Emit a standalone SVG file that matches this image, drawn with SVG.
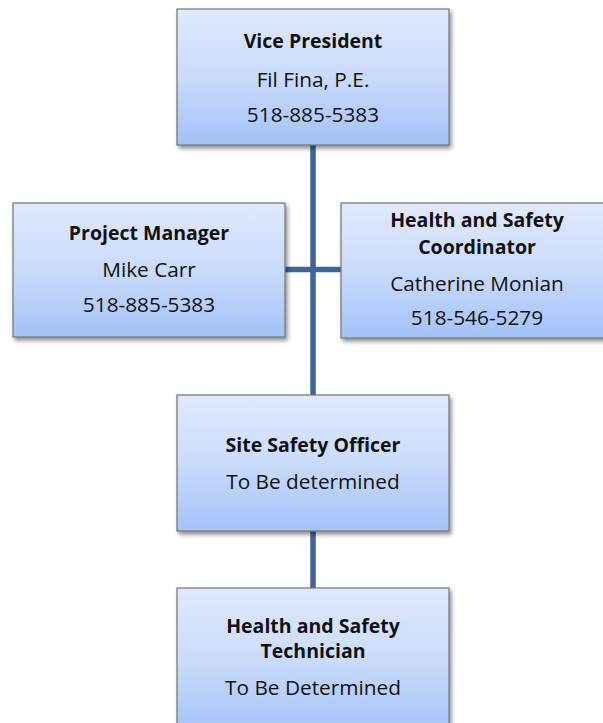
<svg xmlns="http://www.w3.org/2000/svg" width="603" height="723" viewBox="0 0 603 723">
<style>
.box{fill:url(#g);stroke:#737373;stroke-width:1.2;filter:url(#sh)}
.t{font-family:"Open Sans","Liberation Sans",sans-serif;font-size:20.8px;fill:#111;text-anchor:middle}
.b{font-weight:bold;font-size:19.5px}
.c{stroke:#3e6699;stroke-width:5.5;fill:none}
</style>
<defs>
<linearGradient id="g" x1="0" y1="0" x2="0" y2="1">
<stop offset="0" stop-color="#e0e9fc"/>
<stop offset="0.5" stop-color="#cadbfb"/>
<stop offset="1" stop-color="#a3c2f8"/>
</linearGradient>
<filter id="sh" x="-10%" y="-10%" width="125%" height="130%">
<feGaussianBlur in="SourceAlpha" stdDeviation="2"/>
<feOffset dx="2" dy="3" result="o"/>
<feComponentTransfer><feFuncA type="linear" slope="0.45"/></feComponentTransfer>
<feMerge><feMergeNode/><feMergeNode in="SourceGraphic"/></feMerge>
</filter>
</defs>
<g id="connectors">
<line class="c" x1="313" y1="145" x2="313" y2="395"/>
<line class="c" x1="285" y1="269.5" x2="341" y2="269.5"/>
<line class="c" x1="313" y1="531" x2="313" y2="588"/>
</g>
<g id="vp">
<rect class="box" x="177" y="9" width="272" height="136"/>
<text class="t b" x="313" y="48">Vice President</text>
<text class="t" x="313" y="87">Fil Fina, P.E.</text>
<text class="t" x="313" y="122">518-885-5383</text>
</g>
<g id="pm">
<rect class="box" x="13" y="203" width="272" height="134"/>
<text class="t b" x="149" y="240">Project Manager</text>
<text class="t" x="149" y="277">Mike Carr</text>
<text class="t" x="149" y="312">518-885-5383</text>
</g>
<g id="hsc">
<rect class="box" x="341" y="203" width="272" height="135"/>
<text class="t b" x="477" y="227">Health and Safety</text>
<text class="t b" x="477" y="254">Coordinator</text>
<text class="t" x="477" y="291">Catherine Monian</text>
<text class="t" x="477" y="325">518-546-5279</text>
</g>
<g id="sso">
<rect class="box" x="177" y="395" width="272" height="136"/>
<text class="t b" x="313" y="452">Site Safety Officer</text>
<text class="t" x="313" y="489">To Be determined</text>
</g>
<g id="hst">
<rect class="box" x="177" y="588" width="272" height="145"/>
<text class="t b" x="313" y="633">Health and Safety</text>
<text class="t b" x="313" y="658">Technician</text>
<text class="t" x="313" y="695">To Be Determined</text>
</g>
</svg>
